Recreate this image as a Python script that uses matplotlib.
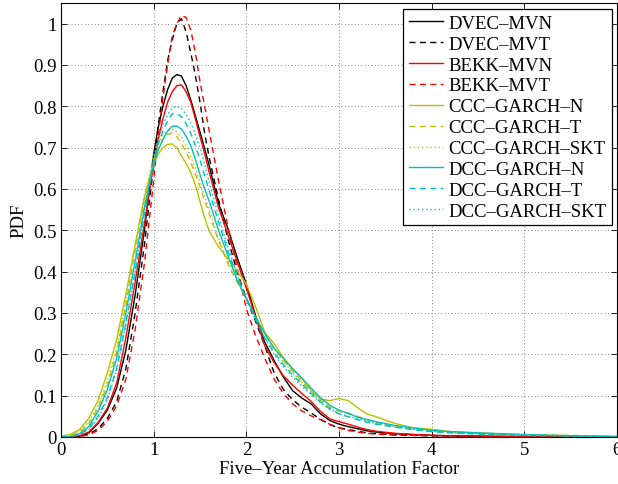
import numpy as np
import matplotlib
matplotlib.use("Agg")
import matplotlib.pyplot as plt

x = np.array([0, 0.1, 0.2, 0.3, 0.4, 0.5, 0.6, 0.7, 0.8, 0.9, 1.0, 1.05, 1.1, 1.15, 1.2, 1.25,
              1.3, 1.35, 1.4, 1.45, 1.5, 1.55, 1.6, 1.7, 1.8, 1.9, 2.0, 2.1, 2.2, 2.3, 2.4,
              2.5, 2.6, 2.7, 2.8, 2.9, 3.0, 3.1, 3.2, 3.3, 3.4, 3.6, 3.8, 4.0, 4.2, 4.5,
              5.0, 5.5, 6.0])

dvec_mvn = [0, 0, 0.002, 0.01, 0.033, 0.065, 0.118, 0.21, 0.343, 0.5, 0.685, 0.75, 0.8, 0.84, 0.868, 0.877,
            0.873, 0.85, 0.816, 0.777, 0.738, 0.698, 0.656, 0.565, 0.505, 0.435, 0.37, 0.293, 0.229, 0.185, 0.145,
            0.112, 0.094, 0.08, 0.056, 0.04, 0.031, 0.025, 0.02, 0.015, 0.012, 0.008, 0.006, 0.004, 0.003, 0.002,
            0.001, 0.0005, 0]
dvec_mvt = [0, 0, 0.002, 0.007, 0.02, 0.045, 0.085, 0.165, 0.3, 0.465, 0.66, 0.755, 0.835, 0.91, 0.96, 1.0,
            1.012, 0.98, 0.93, 0.875, 0.81, 0.735, 0.675, 0.575, 0.48, 0.4, 0.335, 0.28, 0.22, 0.155, 0.115,
            0.09, 0.072, 0.058, 0.043, 0.03, 0.022, 0.018, 0.014, 0.01, 0.008, 0.005, 0.004, 0.003, 0.002, 0.001,
            0.0005, 0, 0]
bekk_mvn = [0, 0, 0.003, 0.012, 0.035, 0.07, 0.13, 0.24, 0.375, 0.515, 0.66, 0.72, 0.77, 0.81, 0.835, 0.85,
            0.852, 0.835, 0.81, 0.77, 0.727, 0.685, 0.64, 0.555, 0.49, 0.425, 0.36, 0.29, 0.22, 0.18, 0.148,
            0.125, 0.105, 0.086, 0.062, 0.044, 0.037, 0.031, 0.024, 0.018, 0.014, 0.009, 0.006, 0.004, 0.003, 0.002,
            0.001, 0.0005, 0]
bekk_mvt = [0, 0, 0.001, 0.005, 0.016, 0.038, 0.075, 0.14, 0.26, 0.42, 0.62, 0.73, 0.82, 0.9, 0.97, 1.0,
            1.02, 1.015, 0.985, 0.93, 0.86, 0.8, 0.74, 0.62, 0.51, 0.41, 0.31, 0.245, 0.19, 0.14, 0.105,
            0.08, 0.063, 0.051, 0.042, 0.031, 0.022, 0.016, 0.012, 0.009, 0.007, 0.005, 0.004, 0.003, 0.002, 0.001,
            0.0005, 0, 0]
ccc_n = [0.002, 0.006, 0.018, 0.045, 0.088, 0.155, 0.235, 0.345, 0.465, 0.58, 0.66, 0.685, 0.7, 0.708, 0.709, 0.7,
         0.68, 0.662, 0.64, 0.61, 0.57, 0.53, 0.498, 0.46, 0.432, 0.402, 0.37, 0.315, 0.253, 0.226, 0.192,
         0.165, 0.142, 0.113, 0.092, 0.088, 0.093, 0.088, 0.071, 0.056, 0.049, 0.033, 0.022, 0.019, 0.013, 0.01,
         0.005, 0.003, 0.001]
ccc_t = [0.001, 0.003, 0.012, 0.032, 0.07, 0.125, 0.205, 0.32, 0.45, 0.575, 0.67, 0.7, 0.72, 0.732, 0.735, 0.727,
         0.71, 0.69, 0.665, 0.636, 0.605, 0.572, 0.54, 0.475, 0.42, 0.375, 0.335, 0.29, 0.25, 0.215, 0.185,
         0.16, 0.135, 0.11, 0.09, 0.072, 0.062, 0.058, 0.05, 0.042, 0.035, 0.025, 0.018, 0.014, 0.011, 0.008,
         0.005, 0.004, 0.001]
ccc_skt = [0.001, 0.004, 0.014, 0.036, 0.076, 0.135, 0.215, 0.33, 0.46, 0.585, 0.68, 0.71, 0.73, 0.742, 0.745, 0.738,
           0.725, 0.705, 0.68, 0.65, 0.615, 0.582, 0.548, 0.48, 0.425, 0.378, 0.335, 0.29, 0.248, 0.212, 0.182,
           0.157, 0.132, 0.108, 0.088, 0.072, 0.062, 0.056, 0.049, 0.042, 0.036, 0.026, 0.019, 0.014, 0.011, 0.008,
           0.005, 0.003, 0.001]
dcc_n = [0, 0.001, 0.008, 0.025, 0.062, 0.115, 0.19, 0.3, 0.425, 0.555, 0.66, 0.695, 0.72, 0.74, 0.752, 0.752,
         0.745, 0.728, 0.705, 0.672, 0.635, 0.6, 0.57, 0.5, 0.44, 0.38, 0.335, 0.29, 0.25, 0.215, 0.19,
         0.165, 0.142, 0.118, 0.095, 0.077, 0.065, 0.057, 0.048, 0.042, 0.037, 0.028, 0.022, 0.016, 0.013, 0.01,
         0.006, 0.003, 0.001]
dcc_t = [0, 0.001, 0.006, 0.02, 0.05, 0.095, 0.165, 0.275, 0.4, 0.54, 0.665, 0.71, 0.74, 0.765, 0.782, 0.783,
         0.775, 0.758, 0.735, 0.705, 0.67, 0.632, 0.595, 0.52, 0.45, 0.39, 0.335, 0.285, 0.24, 0.205, 0.175,
         0.15, 0.128, 0.105, 0.085, 0.068, 0.056, 0.049, 0.042, 0.036, 0.031, 0.024, 0.018, 0.013, 0.01, 0.007,
         0.004, 0.002, 0.001]
dcc_skt = [0, 0.001, 0.005, 0.018, 0.046, 0.09, 0.16, 0.27, 0.4, 0.545, 0.675, 0.72, 0.755, 0.78, 0.797, 0.8,
           0.795, 0.78, 0.76, 0.732, 0.7, 0.66, 0.615, 0.535, 0.46, 0.395, 0.335, 0.283, 0.237, 0.2, 0.17,
           0.145, 0.123, 0.102, 0.083, 0.067, 0.056, 0.05, 0.044, 0.038, 0.033, 0.025, 0.019, 0.014, 0.011, 0.008,
           0.004, 0.002, 0.001]

labels = ["DVEC\u2013MVN", "DVEC\u2013MVT", "BEKK\u2013MVN", "BEKK\u2013MVT",
          "CCC\u2013GARCH\u2013N", "CCC\u2013GARCH\u2013T", "CCC\u2013GARCH\u2013SKT",
          "DCC\u2013GARCH\u2013N", "DCC\u2013GARCH\u2013T", "DCC\u2013GARCH\u2013SKT"]
series = [dvec_mvn, dvec_mvt, bekk_mvn, bekk_mvt, ccc_n, ccc_t, ccc_skt, dcc_n, dcc_t, dcc_skt]

yel = (0.75, 0.75, 0.0)
cya = (0.0, 0.75, 0.75)
colors = ["k", "k", "r", "r", yel, yel, yel, cya, cya, cya]
dashed = (0, (4.3, 3.2))
dotted = (0, (1, 2))
styles = ["-", dashed, "-", dashed, "-", dashed, dotted, "-", dashed, dotted]

plt.rcParams["font.family"] = ["Liberation Serif", "DejaVu Serif"]
plt.rcParams["font.size"] = 13.5

fig = plt.figure(figsize=(6.18, 4.85), dpi=100)
ax = fig.add_axes([61 / 618, 47 / 485, 556 / 618, 434 / 485])

for y, lab, c, ls in zip(series, labels, colors, styles):
    ax.plot(x, y, color=c, linestyle=ls, linewidth=1.0, label=lab)

ax.set_xlim(0, 6)
ax.set_ylim(0, 1.05)
ax.set_xticks(np.arange(0, 7, 1))
ax.set_yticks(np.arange(0, 1.01, 0.1))
ax.set_yticklabels(["0", "0.1", "0.2", "0.3", "0.4", "0.5", "0.6", "0.7", "0.8", "0.9", "1"])
ax.grid(True, linestyle=(0, (1, 3)), color="0.35", linewidth=0.6)
ax.tick_params(direction="in", length=4, width=0.6, top=True, right=True, pad=3)
for s in ax.spines.values():
    s.set_linewidth(0.8)

ax.set_xlabel("Five\u2013Year Accumulation Factor", labelpad=1)
ax.set_ylabel("PDF", labelpad=4)

leg = ax.legend(loc="upper right", bbox_to_anchor=(0.991, 0.986), borderaxespad=0,
                fancybox=False, framealpha=1, edgecolor="k", handlelength=1.8,
                handletextpad=0.3, labelspacing=0.2, borderpad=0.3)
leg.get_frame().set_linewidth(0.9)

fig.savefig("out.png", dpi=100)
